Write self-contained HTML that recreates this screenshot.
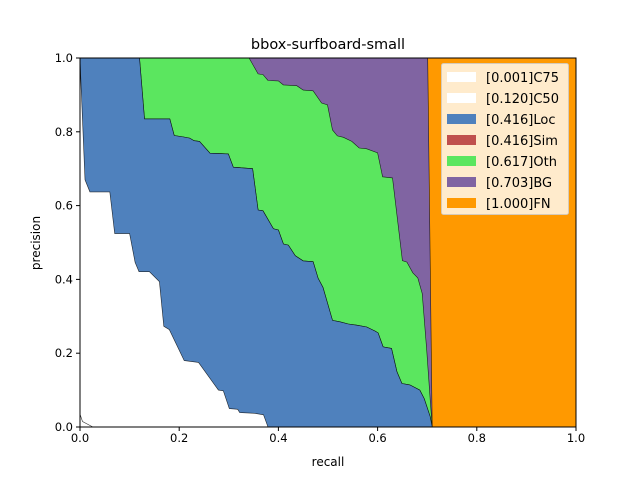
<!DOCTYPE html>
<html><head><meta charset="utf-8"><style>
body{margin:0;background:#fff;font-family:"Liberation Sans","DejaVu Sans",sans-serif}
svg{display:block}
text{font-family:"DejaVu Sans","Liberation Sans",sans-serif}
</style></head><body>
<svg id="chart" width="640" height="480" viewBox="0 0 640 480" xmlns="http://www.w3.org/2000/svg">
<rect width="640" height="480" fill="#fff"/>
<g id="plot"></g>
<g id="axes"></g>
</svg>
<script>
const seriesNames = ["FN","BG","Oth","Sim","Loc","C50","C75"];
const seriesColors = ["#ff9900","#8064a2","#5be65f","#c0504d","#4f81bd","#ffffff","#ffffff"];
const legendLabels = ["[0.001]C75","[0.120]C50","[0.416]Loc","[0.416]Sim","[0.617]Oth","[0.703]BG","[1.000]FN"];
const legendColors = ["#ffffff","#ffffff","#4f81bd","#c0504d","#5be65f","#8064a2","#ff9900"];
const xTicks = [0,0.2,0.4,0.6,0.8,1.0];
const yTicks = [0,0.2,0.4,0.6,0.8,1.0];
const curveFN = [[0,1],[1,1],[1,0]];
const curveBG = [[0,1],[0.701,1],[0.71,0]];
const curveOth = [[0,1],[0.341,1.0],[0.359,0.957],[0.369,0.955],[0.379,0.939],[0.4,0.938],[0.41,0.927],[0.437,0.925],[0.45,0.913],[0.47,0.911],[0.487,0.878],[0.499,0.873],[0.509,0.805],[0.519,0.789],[0.531,0.785],[0.548,0.774],[0.563,0.756],[0.578,0.754],[0.6,0.743],[0.61,0.678],[0.63,0.675],[0.65,0.451],[0.659,0.447],[0.671,0.418],[0.681,0.404],[0.69,0.362],[0.699,0.209],[0.706,0.074],[0.71,0]];
const curveLoc = [[0,1],[0.12,1.0],[0.13,0.835],[0.181,0.835],[0.19,0.79],[0.209,0.786],[0.221,0.783],[0.23,0.776],[0.241,0.774],[0.262,0.742],[0.299,0.74],[0.309,0.704],[0.348,0.7],[0.359,0.588],[0.369,0.586],[0.39,0.537],[0.4,0.534],[0.41,0.496],[0.42,0.493],[0.434,0.464],[0.45,0.45],[0.47,0.448],[0.48,0.403],[0.49,0.378],[0.509,0.289],[0.524,0.285],[0.541,0.279],[0.558,0.276],[0.578,0.271],[0.595,0.26],[0.601,0.255],[0.611,0.217],[0.628,0.213],[0.639,0.15],[0.649,0.118],[0.665,0.114],[0.685,0.1],[0.694,0.077],[0.706,0.028],[0.71,0]];
const curveSim = curveLoc;
const curveC50 = [[0,1.0],[0.002,0.93],[0.01,0.67],[0.02,0.637],[0.06,0.637],[0.07,0.524],[0.1,0.524],[0.111,0.446],[0.119,0.421],[0.14,0.421],[0.16,0.394],[0.169,0.273],[0.18,0.264],[0.21,0.18],[0.239,0.175],[0.279,0.1],[0.289,0.098],[0.301,0.05],[0.318,0.048],[0.322,0.039],[0.352,0.037],[0.37,0.033],[0.379,0.0]];
const curveC75 = [[0,0.035],[0.005,0.015],[0.026,0]];

const X0=80,X1=576,Y0=427,Y1=58;
const sx=r=>X0+r*(X1-X0), sy=p=>Y0-p*(Y0-Y1);
const NS="http://www.w3.org/2000/svg";
const plot=document.getElementById('plot'), axes=document.getElementById('axes');
function mk(tag,attrs,parent){const e=document.createElementNS(NS,tag);for(const k in attrs)e.setAttribute(k,attrs[k]);parent.appendChild(e);return e;}
const curves=[curveFN,curveBG,curveOth,curveSim,curveLoc,curveC50,curveC75];
curves.forEach((c,i)=>{
  const pts=c.map(d=>sx(d[0]).toFixed(1)+','+sy(d[1]).toFixed(1));
  const poly=[sx(0)+','+sy(0)].concat(pts).concat([sx(c[c.length-1][0])+','+sy(0)]);
  const a=mk('polygon',{points:poly.join(' '),fill:seriesColors[i],stroke:'none'},plot);
  
  
  if(i>0){const l=mk('polyline',{points:pts.join(' '),fill:'none',stroke:'#000','stroke-width':0.6,'stroke-opacity':0.8},plot);
  
  }
});
const fr=mk('rect',{x:X0,y:Y1,width:X1-X0,height:Y0-Y1,fill:'none',stroke:'#000','stroke-width':1},axes);


xTicks.forEach(t=>{const x=sx(t);mk('line',{x1:x,x2:x,y1:Y0,y2:Y0+4,stroke:'#000'},axes);
 const tx=mk('text',{x:x,y:Y0+15,'font-size':11.5,'text-anchor':'middle'},axes);tx.textContent=t.toFixed(1);
 
 });
yTicks.forEach(t=>{const y=sy(t);mk('line',{x1:X0-4,x2:X0,y1:y,y2:y,stroke:'#000'},axes);
 const tx=mk('text',{x:X0-7,y:y+4,'font-size':11.5,'text-anchor':'end'},axes);tx.textContent=t.toFixed(1);
 
 });
let t=mk('text',{x:328,y:49,'font-size':14.5,'text-anchor':'middle'},axes);t.textContent='bbox-surfboard-small';


t=mk('text',{x:328,y:466,'font-size':12,'text-anchor':'middle'},axes);t.textContent='recall';


t=mk('text',{x:40,y:243,'font-size':12,'text-anchor':'middle',transform:'rotate(-90 40 243)'},axes);t.textContent='precision';


const lg=mk('g',{},axes);


mk('rect',{x:441.5,y:63.5,width:127,height:151,rx:2,fill:'#fff','fill-opacity':0.8,stroke:'#ccc','stroke-opacity':0.8},lg);
legendLabels.forEach((lab,i)=>{const cy=77+i*21;
 const g=mk('g',{},lg);
 
 
 mk('rect',{x:447,y:cy-5,width:29,height:10,fill:legendColors[i]},g);
 const tx=mk('text',{x:486,y:cy+5,'font-size':13},g);tx.textContent=lab;});
</script>
</body></html>
